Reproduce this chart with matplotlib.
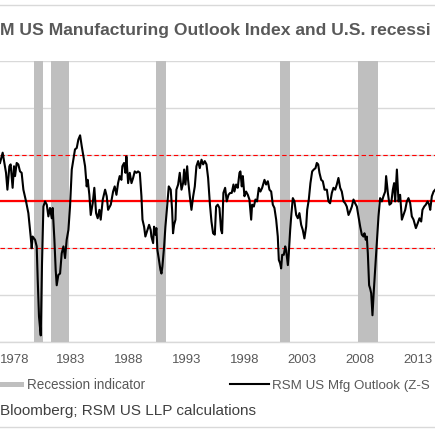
import matplotlib
matplotlib.use("Agg")
import matplotlib.pyplot as plt
from matplotlib.lines import Line2D
from matplotlib.patches import Rectangle
from matplotlib.transforms import ScaledTranslation

# ---------------- data ----------------
years = [
    1976.90, 1977.13, 1977.25, 1977.42, 1977.54, 1977.71, 1977.82, 1977.99, 1978.11, 1978.20,
    1978.34, 1978.48, 1978.63, 1978.77, 1978.92, 1979.15, 1979.35, 1979.55, 1979.64, 1979.72,
    1979.93, 1980.07, 1980.16, 1980.27, 1980.42, 1980.53, 1980.65, 1980.79, 1980.94, 1981.08,
    1981.22, 1981.37, 1981.45, 1981.60, 1981.71, 1981.80, 1981.94, 1982.09, 1982.23, 1982.38,
    1982.52, 1982.66, 1982.81, 1982.95, 1983.10, 1983.24, 1983.38, 1983.53, 1983.67, 1983.82,
    1983.96, 1984.11, 1984.25, 1984.39, 1984.48, 1984.62, 1984.74, 1984.91, 1985.05, 1985.20,
    1985.34, 1985.49, 1985.60, 1985.78, 1985.98, 1986.12,
    1986.24, 1986.47, 1986.67, 1986.81, 1986.96, 1987.10, 1987.24, 1987.39, 1987.47, 1987.62,
    1987.74, 1987.82, 1987.97, 1988.11, 1988.26, 1988.40, 1988.54, 1988.69, 1988.83, 1988.98,
    1989.12, 1989.21, 1989.35, 1989.46, 1989.64, 1989.78, 1989.92, 1989.98, 1990.13, 1990.21,
    1990.33, 1990.41, 1990.50, 1990.61, 1990.76, 1990.85, 1990.93, 1991.08, 1991.19, 1991.34,
    1991.48, 1991.65, 1991.77, 1991.85, 1991.94, 1992.06, 1992.14, 1992.29, 1992.43, 1992.58,
    1992.72, 1992.81, 1992.92, 1993.07, 1993.15, 1993.30, 1993.44, 1993.59, 1993.73, 1993.87,
    1994.02, 1994.16, 1994.31, 1994.45, 1994.59, 1994.74, 1994.88, 1995.03, 1995.17, 1995.31,
    1995.46,
    1995.57, 1995.71, 1995.86, 1996.00, 1996.09, 1996.20, 1996.35, 1996.49, 1996.64, 1996.78,
    1996.92, 1997.07, 1997.15, 1997.30, 1997.44, 1997.59, 1997.67, 1997.79, 1997.88, 1998.02,
    1998.16, 1998.31, 1998.45, 1998.60, 1998.68, 1998.83, 1998.97, 1999.11, 1999.26, 1999.40,
    1999.55, 1999.75, 1999.89, 2000.04, 2000.18, 2000.33, 2000.47, 2000.61, 2000.76, 2000.90,
    2000.99, 2001.10, 2001.19, 2001.28, 2001.42, 2001.54, 2001.62, 2001.77, 2001.85, 2001.97,
    2002.08, 2002.20, 2002.34, 2002.49, 2002.63, 2002.77, 2002.92, 2003.06, 2003.20, 2003.35,
    2003.44, 2003.58, 2003.72, 2003.87, 2004.01, 2004.16, 2004.27, 2004.39, 2004.50, 2004.65,
    2004.79, 2004.94,
    2005.14, 2005.28, 2005.42, 2005.57, 2005.71, 2005.86, 2006.00, 2006.14, 2006.29, 2006.43,
    2006.58, 2006.72, 2006.86, 2007.01, 2007.15, 2007.30, 2007.44, 2007.58, 2007.73, 2007.87,
    2008.02, 2008.16, 2008.30, 2008.39, 2008.50, 2008.59, 2008.68, 2008.79, 2008.88, 2008.97,
    2009.08, 2009.20, 2009.31, 2009.46, 2009.60, 2009.74, 2009.89, 2010.03, 2010.18, 2010.26,
    2010.41, 2010.55, 2010.70, 2010.84, 2010.95, 2011.04, 2011.19, 2011.33, 2011.47, 2011.62,
    2011.76, 2011.91, 2012.05, 2012.19, 2012.34, 2012.48, 2012.63, 2012.83, 2013.00, 2013.14,
    2013.29, 2013.40, 2013.55, 2013.69, 2013.84, 2013.98, 2014.07, 2014.21, 2014.36, 2014.50,
]
outlook_z = [
    0.82, 1.04, 0.86, 0.61, 0.25, 0.75, 0.79, 0.29, 0.75, 0.54,
    0.82, 0.79, 0.64, 0.61, 0.25, 0.00, -0.25, -0.75, -1.00, -0.75,
    -0.82, -0.96, -1.68, -2.46, -2.86, -1.32, -0.11, 0.00, -0.07, -0.32,
    -0.14, -0.36, -0.14, -0.82, -1.46, -1.79, -1.57, -1.54, -1.11, -0.96,
    -1.21, -0.82, -0.61, -0.11, 0.68, 0.89, 1.11, 1.14, 1.32, 1.41,
    1.18, 0.96, 0.75, 0.32, 0.46, 0.14, -0.29, -0.04, 0.29, -0.25,
    -0.36, -0.18, -0.39, 0.04, 0.25, 0.11,
    -0.18, -0.07, 0.21, 0.32, 0.14, 0.39, 0.54, 0.46, 0.75, 0.82,
    0.61, 0.96, 0.39, 0.61, 0.39, 0.50, 0.64, 0.61, 0.64, 0.61,
    0.11, -0.39, -0.54, -0.75, -0.61, -0.50, -0.61, -0.75, -0.89, -0.54,
    -0.71, -0.57, -1.04, -1.21, -1.46, -1.54, -1.39, -0.96, -0.54, -0.11,
    0.32, 0.25, -0.18, -0.68, -0.50, -0.39, 0.25, 0.36, 0.61, 0.25,
    0.39, 0.68, 0.36, 0.75, 0.46, 0.11, -0.18, 0.11, 0.32, 0.75,
    0.86, 0.71, 0.89, 0.79, 0.86, 0.79, 0.50, -0.04, -0.43, -0.68,
    -0.71,
    -0.11, -0.07, -0.14, -0.61, -0.68, 0.18, 0.29, 0.00, 0.14, 0.18,
    0.18, 0.36, 0.21, 0.36, 0.29, 0.61, 0.64, 0.32, 0.54, 0.11,
    0.21, 0.14, 0.04, -0.39, -0.07, -0.11, 0.04, 0.00, 0.29, 0.21,
    0.29, 0.46, 0.36, 0.43, 0.25, 0.21, -0.07, -0.14, -0.39, -0.75,
    -1.25, -1.32, -1.43, -1.14, -1.14, -0.96, -1.04, -1.36, -1.11, -0.61,
    -0.25, 0.07, 0.00, -0.29, -0.36, -0.25, -0.50, -0.61, -0.79, -0.54,
    -0.18, 0.04, 0.39, 0.64, 0.68, 0.71, 0.82, 0.79, 0.61, 0.46,
    0.43, 0.25,
    0.25, 0.00, -0.04, 0.18, 0.29, 0.25, 0.36, 0.50, 0.29, 0.21,
    0.00, -0.04, -0.11, -0.29, -0.21, -0.11, 0.04, -0.04, -0.11, -0.32,
    -0.54, -0.71, -0.75, -0.68, -0.82, -0.75, -1.11, -1.79, -1.86, -1.96,
    -2.43, -1.89, -1.46, -0.89, -0.32, 0.07, 0.00, 0.11, 0.21, 0.54,
    0.18, -0.07, -0.04, 0.25, 0.39, 0.00, 0.68, 0.00, 0.14, -0.39,
    -0.29, -0.18, 0.00, 0.07, -0.04, -0.32, -0.39, -0.57, -0.46, -0.36,
    -0.43, -0.18, -0.11, -0.07, 0.00, -0.07, -0.18, 0.11, 0.21, 0.25,
]
recession_start = [1979.87, 1981.31, 1990.39, 2001.10, 2007.84]
recession_end = [1980.59, 1982.89, 1991.25, 2001.96, 2009.57]
tick_years = [1978, 1983, 1988, 1993, 1998, 2003, 2008, 2013]
tick_labels = [str(y) for y in tick_years]
band_levels = [-1, 1]
# texts as visible in the (cropped) reference
title = "M US Manufacturing Outlook Index and U.S. recessi"
legend_labels = ["Recession indicator", "RSM US Mfg Outlook (Z-S"]
source = "Bloomberg; RSM US LLP calculations"

# ---------------- style ----------------
W = H = 435
FONT = "Liberation Sans"
GREY_TXT = "#595959"
GRID = "#d9d9d9"
BAR = "#bfbfbf"
RED = "#ff0000"


def fx(px):
    return px / W


def fy(py):
    return 1 - py / H


fig = plt.figure(figsize=(W / 100 + 0.002, H / 100 + 0.002), dpi=100)
fig.patch.set_facecolor("white")
fig.canvas.draw()
rend = fig.canvas.get_renderer()


def fit_size(s, target_px, weight="normal", base=10.0):
    t = fig.text(0, 0, s, fontfamily=FONT, fontsize=base, fontweight=weight)
    w = t.get_window_extent(renderer=rend).width
    t.remove()
    return base * target_px / w


fs_title = fit_size(title, 431, "bold")
fs_tick = fit_size("1983", 29)
fs_leg = fit_size(legend_labels[0], 118.5)
fs_leg2 = fit_size(legend_labels[1], 158)
fs_src = fit_size(source, 257)

ax = fig.add_axes([0, fy(342), 1, (342 - 61) / H])
ax.set_xlim(1976.90, 2014.50)
ax.set_ylim(-3, 3)

for s, e in zip(recession_start, recession_end):
    ax.axvspan(s, e, color=BAR, lw=0, zorder=1)

ax.set_yticks([-3, -2, -1, 0, 1, 2, 3])
ax.yaxis.grid(True, color=GRID, lw=1.0, zorder=0)
ax.set_axisbelow(True)
ax.tick_params(axis="y", left=False, labelleft=False)

ax.axhline(0, color=RED, lw=1.6, zorder=3)
for lv in band_levels:
    ax.axhline(lv, color=RED, lw=0.8, ls=(0, (4, 2.5)), zorder=3)

ax.plot(years, outlook_z, color="black", lw=1.5, zorder=4, solid_joinstyle="round")

for sp in ["left", "right", "top"]:
    ax.spines[sp].set_visible(False)
ax.spines["bottom"].set_color(GRID)
ax.spines["bottom"].set_linewidth(1.0)
ax.spines["bottom"].set_zorder(0.5)

ax.set_xticks(tick_years)
ax.set_xticklabels(tick_labels, fontfamily=FONT, fontsize=fs_tick, color=GREY_TXT)
ax.tick_params(axis="x", length=0, pad=(362.7 - 342) * 0.72)
for lab in ax.get_xticklabels():
    lab.set_va("baseline")
# keep the first label just inside the left edge
first = ax.xaxis.get_major_ticks()[0].label1
first.set_transform(first.get_transform() + ScaledTranslation(2.2 / 100, 0, fig.dpi_scale_trans))

# frame lines
fig.add_artist(Line2D([0, 1], [fy(4.7), fy(4.7)], color=GRID, lw=1.0))
fig.add_artist(Line2D([0, 1], [fy(426.7), fy(426.7)], color=GRID, lw=1.0))

# title
fig.text(fx(0.3), fy(34.7), title, fontfamily=FONT, fontweight="bold",
         fontsize=fs_title, color=GREY_TXT, va="baseline", ha="left")

# legend
fig.add_artist(Rectangle((fx(-2), fy(386.7)), fx(26), 5 / H, color=BAR, lw=0))
fig.text(fx(27.3), fy(388.7), legend_labels[0], fontfamily=FONT, fontsize=fs_leg,
         color=GREY_TXT, va="baseline", ha="left")
fig.add_artist(Line2D([fx(230), fx(269)], [fy(384), fy(384)], color="black", lw=1.5))
fig.text(fx(272), fy(388.7), legend_labels[1], fontfamily=FONT, fontsize=fs_leg2,
         color=GREY_TXT, va="baseline", ha="left")

# source
fig.text(fx(0.3), fy(414.7), source, fontfamily=FONT, fontsize=fs_src,
         color="#404040", va="baseline", ha="left")

fig.savefig("out.png", dpi=100, facecolor="white")
